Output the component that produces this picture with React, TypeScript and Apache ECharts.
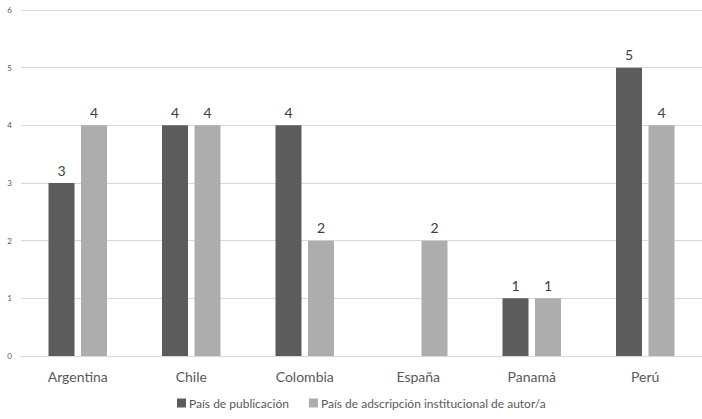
import React, { useEffect, useRef } from "react";
import * as echarts from "echarts";

const categories = ["Argentina", "Chile", "Colombia", "España", "Panamá", "Perú"];
const publicacion = [3, 4, 4, null, 1, 5];
const adscripcion = [4, 4, 2, 2, 1, 4];
const seriesNames = ["País de publicación", "País de adscripción institucional de autor/a"];

export default function App() {
  const ref = useRef<HTMLDivElement>(null);
  useEffect(() => {
    const chart = echarts.init(ref.current!, undefined, { renderer: "svg" });
    const font = "Lato, 'Open Sans', sans-serif";
    const label = {
      show: true,
      position: "top",
      distance: 6,
      color: "#404040",
      fontSize: 14,
      fontFamily: font,
    };
    chart.setOption({
      animation: false,
      textStyle: { fontFamily: font },
      grid: { left: 21, right: -5, top: 10, bottom: 63, containLabel: false },
      legend: {
        bottom: 5,
        left: 172,
        itemWidth: 9,
        itemHeight: 9,
        itemGap: 20,
        icon: "rect",
        textStyle: { color: "#595959", fontSize: 12, fontFamily: font, padding: [0, 0, 0, -2] },
        data: seriesNames,
      },
      xAxis: {
        type: "category",
        data: categories,
        axisLine: { show: true, lineStyle: { color: "#d9d9d9" } },
        axisTick: { show: false },
        axisLabel: { color: "#595959", fontSize: 14, margin: 13, fontFamily: font },
      },
      yAxis: {
        type: "value",
        min: 0,
        max: 6,
        interval: 1,
        splitLine: { lineStyle: { color: "#d9d9d9" } },
        axisLine: { show: false },
        axisTick: { show: false },
        axisLabel: { color: "#595959", fontSize: 8, margin: 9, fontFamily: font },
      },
      series: [
        {
          name: seriesNames[0],
          type: "bar",
          data: publicacion,
          barWidth: 26,
          barGap: "25%",
          itemStyle: { color: "#5c5c5c" },
          label,
        },
        {
          name: seriesNames[1],
          type: "bar",
          data: adscripcion,
          barWidth: 26,
          itemStyle: { color: "#adadad" },
          label,
        },
      ],
    });
    return () => chart.dispose();
  }, []);
  return <div ref={ref} style={{ width: 702, height: 419, position: "absolute", left: 0, top: 0 }} />;
}
